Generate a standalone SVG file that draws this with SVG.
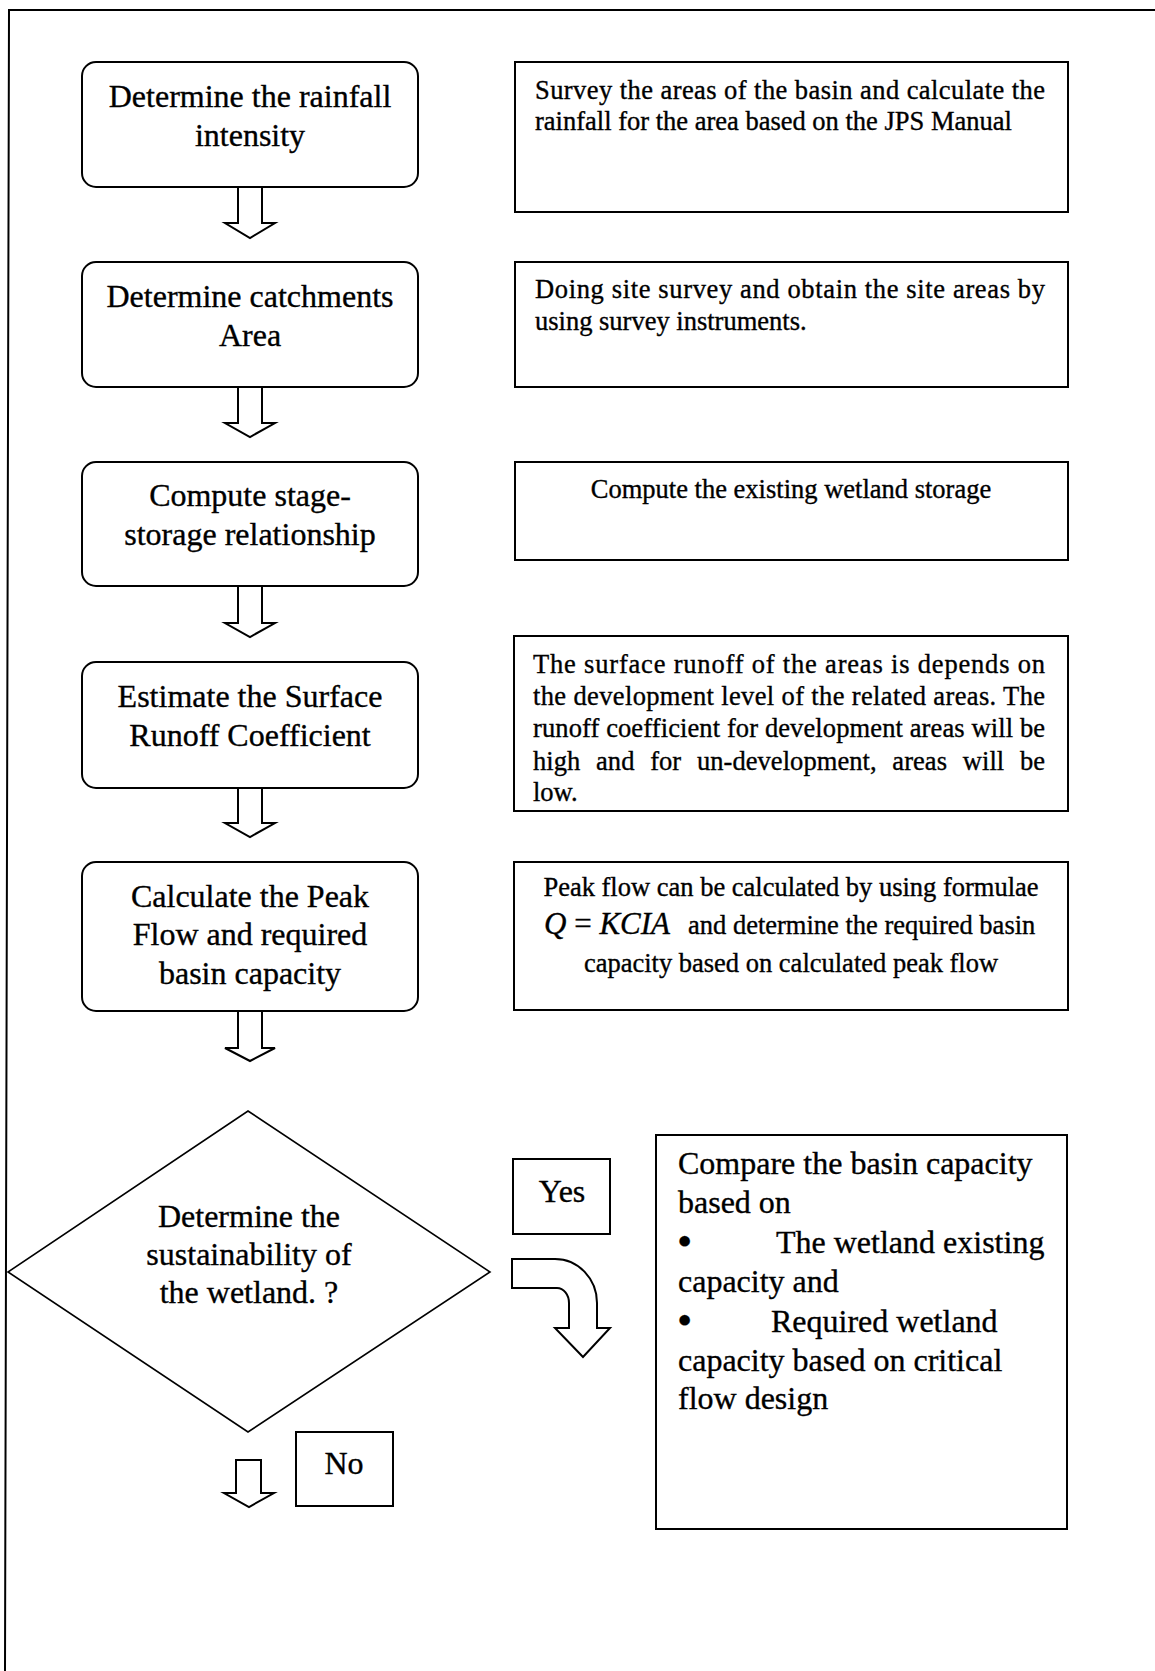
<svg xmlns="http://www.w3.org/2000/svg" width="1155" height="1671" viewBox="0 0 1155 1671">
<style>
.frame{fill:none;stroke:#000;stroke-width:2}
.box{fill:#fff;stroke:#000;stroke-width:2}
.dia{fill:#fff;stroke:#000;stroke-width:1.6}
.arr{fill:#fff;stroke:#000;stroke-width:2;stroke-linejoin:miter}
.t{font-family:"Liberation Serif","Times New Roman",serif;fill:#000;stroke:#000;stroke-width:0.35}
.big{font-size:32px;text-anchor:middle}
.sm{font-size:26.5px}
.smc{font-size:26.5px;text-anchor:middle}
.bul{font-size:38px;font-weight:bold}
</style>
<rect x="0" y="0" width="1155" height="1671" fill="#fff"/>
<path class="frame" d="M5,1671 L9,10 L1155,10"/>

<g id="n1"><rect class="box" x="82" y="62" width="336" height="125" rx="14"/>
<text class="t big"><tspan x="250" y="107">Determine the rainfall</tspan><tspan x="250" y="146">intensity</tspan></text></g>
<g id="n2"><rect class="box" x="82" y="262" width="336" height="125" rx="14"/>
<text class="t big"><tspan x="250" y="307">Determine catchments</tspan><tspan x="250" y="346">Area</tspan></text></g>
<g id="n3"><rect class="box" x="82" y="462" width="336" height="124" rx="14"/>
<text class="t big"><tspan x="250" y="506">Compute stage-</tspan><tspan x="250" y="545">storage relationship</tspan></text></g>
<g id="n4"><rect class="box" x="82" y="662" width="336" height="126" rx="14"/>
<text class="t big"><tspan x="250" y="707">Estimate the Surface</tspan><tspan x="250" y="746">Runoff Coefficient</tspan></text></g>
<g id="n5"><rect class="box" x="82" y="862" width="336" height="149" rx="14"/>
<text class="t big"><tspan x="250" y="907">Calculate the Peak</tspan><tspan x="250" y="945">Flow and required</tspan><tspan x="250" y="984">basin capacity</tspan></text></g>
<g id="n6"><polygon class="dia" points="248,1111 490,1272 248,1432 8,1272"/>
<text class="t big"><tspan x="249" y="1227">Determine the</tspan><tspan x="249" y="1265">sustainability of</tspan><tspan x="249" y="1303">the wetland. ?</tspan></text></g>

<g id="r1"><rect class="box" x="515" y="62" width="553" height="150"/>
<text class="t sm"><tspan x="535" y="99" textLength="510">Survey the areas of the basin and calculate the</tspan><tspan x="535" y="130">rainfall for the area based on the JPS Manual</tspan></text></g>
<g id="r2"><rect class="box" x="515" y="262" width="553" height="125"/>
<text class="t sm"><tspan x="535" y="298" textLength="510">Doing site survey and obtain the site areas by</tspan><tspan x="535" y="330">using survey instruments.</tspan></text></g>
<g id="r3"><rect class="box" x="515" y="462" width="553" height="98"/>
<text class="t smc" x="791" y="498">Compute the existing wetland storage</text></g>
<g id="r4"><rect class="box" x="514" y="636" width="554" height="175"/>
<text class="t sm"><tspan x="533" y="673" textLength="512">The surface runoff of the areas is depends on</tspan><tspan x="533" y="705" textLength="512">the development level of the related areas. The</tspan><tspan x="533" y="737" textLength="512">runoff coefficient for development areas will be</tspan><tspan x="533" y="770" textLength="512" word-spacing="9">high and for un-development, areas will be</tspan><tspan x="533" y="801">low.</tspan></text></g>
<g id="r5"><rect class="box" x="514" y="862" width="554" height="148"/>
<text class="t smc" x="791" y="896">Peak flow can be calculated by using formulae</text>
<text class="t sm" x="544" y="934"><tspan font-size="31" font-style="italic">Q</tspan><tspan font-size="31"> = </tspan><tspan font-size="31" font-style="italic">KCIA</tspan><tspan dx="18">and determine the required basin</tspan></text>
<text class="t smc" x="791" y="972">capacity based on calculated peak flow</text></g>
<g id="yes"><rect class="box" x="513" y="1159" width="97" height="75"/>
<text class="t big" x="562" y="1202">Yes</text></g>
<g id="no"><rect class="box" x="296" y="1432" width="97" height="74"/>
<text class="t big" x="344" y="1474">No</text></g>
<g id="r6"><rect class="box" x="656" y="1135" width="411" height="394"/>
<text class="t" font-size="32"><tspan x="678" y="1174">Compare the basin capacity</tspan><tspan x="678" y="1213">based on</tspan><tspan x="678" y="1254" class="bul">•</tspan><tspan x="776" y="1253">The wetland existing</tspan><tspan x="678" y="1292">capacity and</tspan><tspan x="678" y="1333" class="bul">•</tspan><tspan x="771" y="1332">Required wetland</tspan><tspan x="678" y="1371">capacity based on critical</tspan><tspan x="678" y="1409">flow design</tspan></text></g>

<g id="connectors">
<path class="arr" d="M238,187 L262,187 L262,223 L275,223 L250,238 L225,223 L238,223 Z"/>
<path class="arr" d="M238,387 L262,387 L262,423 L275,423 L250,437 L225,423 L238,423 Z"/>
<path class="arr" d="M238,586 L262,586 L262,623 L275,623 L250,637 L225,623 L238,623 Z"/>
<path class="arr" d="M238,788 L262,788 L262,823 L275,823 L250,837 L225,823 L238,823 Z"/>
<path class="arr" d="M238,1011 L262,1011 L262,1048 L275,1048 L250,1061 L225,1048 L238,1048 Z"/>
<path class="arr" d="M236,1460 L261,1460 L261,1493 L274,1493 L249,1507 L224,1493 L236,1493 Z"/>
<path class="arr" d="M512,1259 L555,1259 A42,44 0 0 1 597,1303 L597,1328 L610,1328 L583,1357 L555,1328 L569,1328 L569,1303 A12,15 0 0 0 557,1288 L512,1288 Z"/>
</g>
</svg>
